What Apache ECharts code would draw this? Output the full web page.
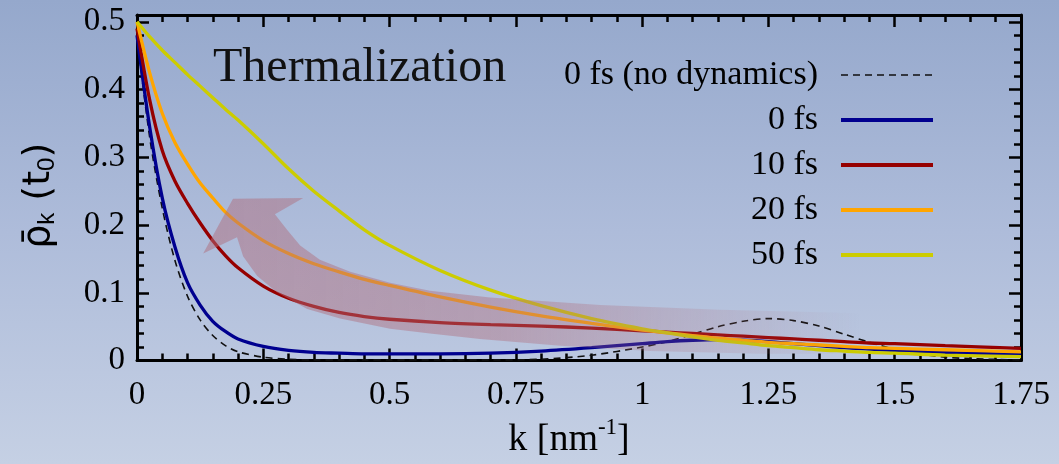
<!DOCTYPE html>
<html>
<head>
<meta charset="utf-8">
<script src="https://cdn.jsdelivr.net/npm/echarts@6/dist/echarts.min.js"></script>
<style>
html,body{margin:0;padding:0;}
#chart{width:1059px;height:464px;background:linear-gradient(to bottom,#95a8cc 0%,#aebcda 50%,#c5d0e4 100%);}
</style>
</head>
<body>
<div id="chart"></div>
<script>
// k grid (nm^-1)
const kGrid = [0, 0.025, 0.05, 0.075, 0.1, 0.125, 0.15, 0.175, 0.2, 0.25, 0.3, 0.35, 0.4, 0.45, 0.5, 0.6, 0.7, 0.8, 0.9, 1.0, 1.05, 1.1, 1.15, 1.2, 1.25, 1.3, 1.35, 1.4, 1.45, 1.5, 1.6, 1.75];
const noDynamics = [0.48, 0.33, 0.225, 0.148, 0.095, 0.060, 0.037, 0.022, 0.013, 0.005, 0.002, 0.001, 0.001, 0.001, 0.001, 0.001, 0.001, 0.002, 0.008, 0.020, 0.028, 0.039, 0.050, 0.058, 0.062, 0.059, 0.051, 0.039, 0.027, 0.017, 0.005, 0.001];
const fs0  = [0.48, 0.345, 0.24, 0.168, 0.115, 0.082, 0.058, 0.043, 0.032, 0.021, 0.015, 0.012, 0.011, 0.010, 0.010, 0.010, 0.011, 0.014, 0.019, 0.025, 0.028, 0.030, 0.031, 0.030, 0.028, 0.025, 0.022, 0.019, 0.017, 0.015, 0.012, 0.009];
const fs10 = [0.49, 0.385, 0.31, 0.265, 0.232, 0.203, 0.177, 0.155, 0.137, 0.110, 0.092, 0.080, 0.071, 0.065, 0.061, 0.056, 0.053, 0.051, 0.048, 0.044, 0.042, 0.040, 0.038, 0.036, 0.034, 0.032, 0.030, 0.028, 0.026, 0.025, 0.022, 0.018];
const fs20 = [0.50, 0.425, 0.365, 0.322, 0.290, 0.262, 0.240, 0.219, 0.203, 0.177, 0.158, 0.143, 0.131, 0.120, 0.111, 0.094, 0.079, 0.066, 0.055, 0.045, 0.041, 0.037, 0.033, 0.030, 0.027, 0.025, 0.023, 0.021, 0.019, 0.018, 0.016, 0.013];
const fs50 = [0.50, 0.478, 0.458, 0.440, 0.422, 0.405, 0.388, 0.371, 0.355, 0.320, 0.283, 0.250, 0.221, 0.193, 0.170, 0.133, 0.104, 0.081, 0.062, 0.047, 0.041, 0.035, 0.030, 0.026, 0.022, 0.019, 0.016, 0.014, 0.012, 0.011, 0.008, 0.006];

const seriesNames = ['0 fs (no dynamics)', '0 fs', '10 fs', '20 fs', '50 fs'];
const seriesValues = [noDynamics, fs0, fs10, fs20, fs50];
const seriesColors = ['#111111', '#00008f', '#960000', '#ffa500', '#cccc00'];

// curved "thermalization" arrow outline, in data coordinates (k, value)
const arrowK = [1.432, 1.154, 0.917, 0.699, 0.580, 0.501, 0.422, 0.362, 0.323, 0.297, 0.273, 0.329, 0.190, 0.131, 0.198, 0.210, 0.238, 0.277, 0.337, 0.402, 0.501, 0.580, 0.679, 0.838, 1.016, 1.234, 1.432];
const arrowV = [0.070, 0.075, 0.082, 0.093, 0.103, 0.115, 0.131, 0.149, 0.170, 0.193, 0.216, 0.240, 0.239, 0.158, 0.182, 0.154, 0.125, 0.101, 0.076, 0.062, 0.047, 0.040, 0.032, 0.022, 0.014, 0.010, 0.010];

const xTickLabels = ['0', '0.25', '0.5', '0.75', '1', '1.25', '1.5', '1.75'];

const serif = '"Liberation Serif", "Times New Roman", serif';
const chart = echarts.init(document.getElementById('chart'), null, {renderer: 'canvas'});

const tickStyle = {color: '#000', width: 2.5};
const lineStyleAxis = {color: '#000', width: 3};

function xAxisDef(pos, labels) {
  return {
    type: 'value', position: pos, min: 0, max: 1.75, interval: 0.25,
    axisLine: {show: true, onZero: false, lineStyle: lineStyleAxis},
    axisTick: {show: true, inside: true, length: 12, lineStyle: tickStyle},
    minorTick: {show: true, splitNumber: 5, length: 7, lineStyle: tickStyle},
    splitLine: {show: false},
    axisLabel: labels ? {
      show: true, margin: 18, color: '#000', fontFamily: serif, fontSize: 33,
      formatter: function (v) { const i = Math.round(v / 0.25); return xTickLabels[i] !== undefined ? xTickLabels[i] : ''; }
    } : {show: false}
  };
}
function yAxisDef(pos, interval, len, showLine, labels) {
  return {
    type: 'value', position: pos, min: 0, max: 0.51, interval: interval,
    axisLine: {show: showLine, onZero: false, lineStyle: lineStyleAxis},
    axisTick: {show: true, inside: true, length: len, lineStyle: tickStyle},
    splitLine: {show: false},
    axisLabel: labels ? {
      show: true, margin: 12, color: '#000', fontFamily: serif, fontSize: 33,
      showMaxLabel: false,
      formatter: function (v) { return Math.abs(v - Math.round(v * 10) / 10) < 1e-6 ? String(Math.round(v * 10) / 10) : ''; }
    } : {show: false}
  };
}

const xMain = xAxisDef('bottom', true);
xMain.name = 'k [nm{p|-1}]';
xMain.nameLocation = 'middle';
xMain.nameGap = 54;
xMain.nameTextStyle = {fontFamily: serif, fontSize: 38, color: '#000', padding: [0, 20, 0, 0],
  rich: {p: {fontFamily: serif, fontSize: 23, color: '#000', padding: [0, 0, 24, 0]}}};

const yMain = yAxisDef('left', 0.1, 12, true, true);
yMain.name = '{r|ρ̄}{s|k} (t{s|0})';
yMain.nameLocation = 'middle';
yMain.nameGap = 78;
yMain.nameTextStyle = {fontFamily: '"DejaVu Sans", "Liberation Sans", sans-serif', fontSize: 38, color: '#000', padding: [0, 16, 0, 0],
  rich: {
    r: {fontFamily: '"DejaVu Sans", sans-serif', fontSize: 38, color: '#000'},
    s: {fontFamily: '"Liberation Sans", sans-serif', fontSize: 24, color: '#000', padding: [16, 0, 0, 0]}
  }};

const lineSeries = seriesNames.map(function (name, i) {
  return {
    type: 'line', name: name, xAxisIndex: 0, yAxisIndex: 0,
    data: kGrid.map(function (k, j) { return [k, seriesValues[i][j]]; }),
    symbol: 'none', smooth: 0.3, z: 3 + i,
    lineStyle: i === 0 ? {color: seriesColors[i], width: 1.6, type: [7, 5]} : {color: seriesColors[i], width: 3.3},
    itemStyle: {color: seriesColors[i]}
  };
});

const arrowSeries = {
  type: 'custom', name: 'arrow', xAxisIndex: 0, yAxisIndex: 0, z: 20, silent: true, clip: false,
  data: [0],
  renderItem: function (params, api) {
    const pts = arrowK.map(function (k, i) { return api.coord([k, arrowV[i]]); });
    return {
      type: 'polygon', shape: {points: pts},
      style: {fill: new echarts.graphic.LinearGradient(0, 0, 1, 0, [
        {offset: 0, color: 'rgba(175,110,125,0.5)'},
        {offset: 0.45, color: 'rgba(175,110,125,0.43)'},
        {offset: 0.75, color: 'rgba(175,110,125,0.2)'},
        {offset: 1, color: 'rgba(175,110,125,0)'}
      ])}
    };
  }
};

const legendData = seriesNames.map(function (name, i) {
  return {name: name, lineStyle: i === 0 ? {width: 1.6} : {width: 4}};
});

chart.setOption({
  backgroundColor: 'transparent',
  animation: false,
  grid: {left: 137, right: 38, top: 15, bottom: 94, containLabel: false},
  xAxis: [xMain, xAxisDef('top', false)],
  yAxis: [yMain, yAxisDef('right', 0.1, 12, true, false), yAxisDef('left', 0.02, 7, false, false), yAxisDef('right', 0.02, 7, false, false)],
  legend: {
    data: legendData, orient: 'vertical', align: 'right', right: 119, top: 53,
    itemWidth: 92, itemHeight: 14, itemGap: 11, selectedMode: false,
    itemStyle: {opacity: 0},
    textStyle: {fontFamily: serif, fontSize: 34, color: '#000', lineHeight: 33, padding: [0, 18, 0, 0]}
  },
  graphic: [{
    type: 'text', left: 213, top: 44, silent: true,
    style: {text: 'Thermalization', font: '48px "Liberation Serif"', fill: '#111'}
  }],
  series: lineSeries.concat([arrowSeries])
});
</script>
</body>
</html>
